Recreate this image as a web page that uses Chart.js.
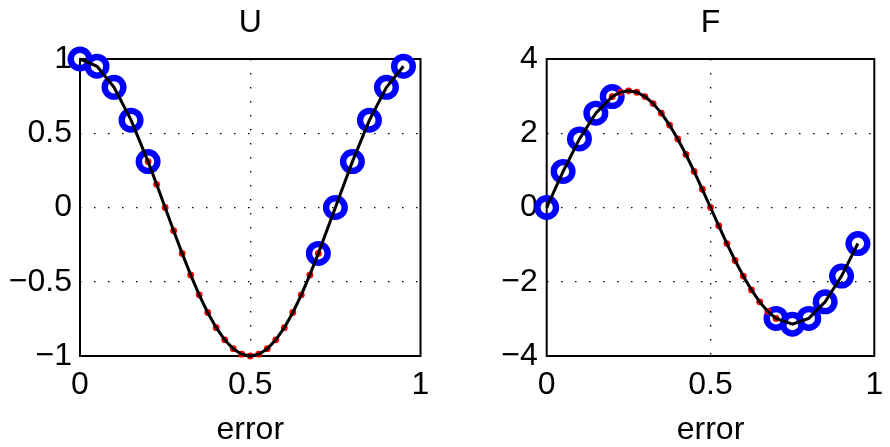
<!DOCTYPE html>
<html>
<head>
<meta charset="utf-8">
<script src="https://cdn.jsdelivr.net/npm/chart.js@4.4.0/dist/chart.umd.min.js"></script>
<style>
  html, body { margin: 0; padding: 0; background: #fff; overflow: hidden; }
  canvas { position: absolute; top: 0; }
  #chartU { left: 0; }
  #chartF { left: 445px; }
</style>
</head>
<body>
<canvas id="chartU" width="445" height="447"></canvas>
<canvas id="chartF" width="445" height="447"></canvas>
<script>
// Coarse samples (blue circles) near the ends of the interval
const coarseX = [0, 0.05, 0.1, 0.15, 0.2, 0.7, 0.75, 0.8, 0.85, 0.9, 0.95];
const coarseU = [1, 0.951, 0.809, 0.588, 0.309, -0.309, 0, 0.309, 0.588, 0.809, 0.951];
const coarseF = [0, 0.971, 1.847, 2.542, 2.988, -2.988, -3.142, -2.988, -2.542, -1.847, -0.971];

// Fine samples (red dots) across the middle
const fineX = [0.2, 0.225, 0.25, 0.275, 0.3, 0.325, 0.35, 0.375, 0.4, 0.425, 0.45,
               0.475, 0.5, 0.525, 0.55, 0.575, 0.6, 0.625, 0.65, 0.675, 0.7];
const fineU = [0.309, 0.156, 0, -0.156, -0.309, -0.454, -0.588, -0.707, -0.809, -0.891, -0.951,
               -0.988, -1, -0.988, -0.951, -0.891, -0.809, -0.707, -0.588, -0.454, -0.309];
const fineF = [2.988, 3.104, 3.142, 3.104, 2.988, 2.800, 2.542, 2.221, 1.847, 1.427, 0.971,
               0.491, 0, -0.491, -0.971, -1.427, -1.847, -2.221, -2.542, -2.800, -2.988];

// Tick positions
const xTicks = [0, 0.5, 1];
const uTicks = [-1, -0.5, 0, 0.5, 1];
const fTicks = [-4, -2, 0, 2, 4];

const FONT = 'Liberation Sans, Arial, Helvetica, sans-serif';
const FONT_SIZE = 32;

function points(xs, ys) {
  return xs.map((x, i) => ({ x: x, y: ys[i] }));
}

// Black curve through all samples, ordered by x
function mergedCurve(xa, ya, xb, yb) {
  const seen = new Map();
  points(xa, ya).concat(points(xb, yb)).forEach(p => { if (!seen.has(p.x)) seen.set(p.x, p); });
  return Array.from(seen.values()).sort((a, b) => a.x - b.x);
}

function fmt(v) {
  return v < 0 ? '\u2212' + String(Math.abs(v)) : String(v);
}

// Full rectangle around the plot area
const boxPlugin = {
  id: 'plotBox',
  beforeDatasetsDraw(chart) {
    const { ctx, chartArea: a } = chart;
    ctx.save();
    ctx.strokeStyle = '#000';
    ctx.lineWidth = 2;
    ctx.strokeRect(a.left, a.top, a.right - a.left, a.bottom - a.top);
    ctx.restore();
  }
};

function makeChart(id, title, coarseY, fineY, yTicks, yWidth, padRight, yPad) {
  const yMin = yTicks[0], yMax = yTicks[yTicks.length - 1];
  const gridColor = (vals) => (c) => {
    const v = c.tick ? c.tick.value : null;
    return (v === vals[0] || v === vals[vals.length - 1]) ? 'rgba(0,0,0,0)' : '#000';
  };
  return new Chart(document.getElementById(id), {
    type: 'scatter',
    data: {
      datasets: [
        {
          data: mergedCurve(coarseX, coarseY, fineX, fineY),
          showLine: true,
          borderColor: '#000',
          borderWidth: 3,
          pointRadius: 0,
          tension: 0,
          clip: false
        },
        {
          data: points(fineX, fineY),
          showLine: false,
          pointRadius: 3.4,
          pointBackgroundColor: '#ff0000',
          pointBorderWidth: 0,
          clip: false
        },
        {
          data: points(coarseX, coarseY),
          showLine: false,
          pointRadius: 9.3,
          pointBorderColor: '#0000ff',
          pointBackgroundColor: 'rgba(0,0,0,0)',
          pointBorderWidth: 6.4,
          clip: false
        }
      ]
    },
    options: {
      responsive: false,
      animation: false,
      events: [],
      layout: { padding: { left: 0, right: padRight, top: 0, bottom: 0 } },
      plugins: {
        legend: { display: false },
        tooltip: { enabled: false },
        title: {
          display: true,
          text: title,
          color: '#000',
          fullSize: false,
          font: { family: FONT, size: FONT_SIZE, weight: 'normal' },
          padding: { top: 3.5, bottom: 17.1 }
        }
      },
      scales: {
        x: {
          type: 'linear',
          min: 0, max: 1,
          afterBuildTicks: s => { s.ticks = xTicks.map(v => ({ value: v })); },
          afterFit: s => { s.height = 91; s.paddingLeft = 0; s.paddingRight = 0; },
          ticks: {
            color: '#000',
            font: { family: FONT, size: FONT_SIZE },
            padding: 10,
            maxRotation: 0,
            autoSkip: false,
            callback: v => fmt(v)
          },
          grid: { color: gridColor(xTicks), lineWidth: 1.3, drawTicks: false },
          border: { display: false, dash: [1.5, 12.5] },
          title: {
            display: true,
            text: 'error',
            color: '#000',
            font: { family: FONT, size: FONT_SIZE },
            padding: { top: 0, bottom: -2 }
          }
        },
        y: {
          type: 'linear',
          min: yMin, max: yMax,
          afterBuildTicks: s => { s.ticks = yTicks.map(v => ({ value: v })); },
          afterFit: s => { s.width = yWidth; s.paddingTop = 0; s.paddingBottom = 0; },
          ticks: {
            color: '#000',
            font: { family: FONT, size: FONT_SIZE },
            padding: yPad,
            autoSkip: false,
            callback: v => fmt(v)
          },
          grid: { color: gridColor(yTicks), lineWidth: 1.3, drawTicks: false },
          border: { display: false, dash: [1.5, 12.5] }
        }
      }
    },
    plugins: [boxPlugin]
  });
}

makeChart('chartU', 'U', coarseU, fineU, uTicks, 80, 24.5, 8);
makeChart('chartF', 'F', coarseF, fineF, fTicks, 101.7, 2.5, 9);
</script>
</body>
</html>
